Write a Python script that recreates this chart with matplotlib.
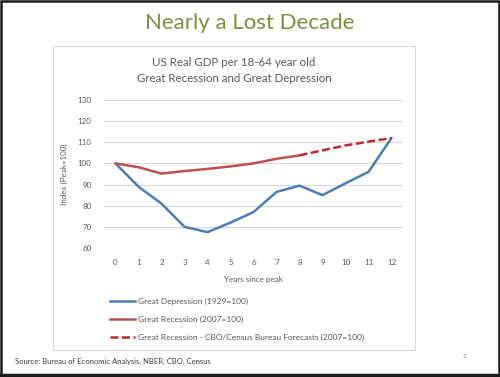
import matplotlib
matplotlib.use("Agg")
import matplotlib.pyplot as plt
from matplotlib.patches import Rectangle
from matplotlib.lines import Line2D

plt.rcParams['font.family'] = ['Lato', 'DejaVu Sans']

years = list(range(13))
great_depression = [100, 89, 81, 70, 67.5, 72, 77, 86.5, 89.5, 85, 90.6, 96, 112]
recession_years = list(range(9))
great_recession = [100, 98.2, 95.2, 96.4, 97.4, 98.6, 100, 102.2, 103.8]
forecast_years = [8, 9, 10, 11, 12]
forecast = [103.8, 106.2, 108.5, 110.3, 112]
yticks = [60, 70, 80, 90, 100, 110, 120, 130]

labels = ["Great Depression (1929=100)",
          "Great Recession (2007=100)",
          "Great Recession - CBO/Census Bureau Forecasts (2007=100)"]

W, H = 500, 377
fig = plt.figure(figsize=(5.0, 3.77), dpi=100)

def fx(px):
    return px / W

def fy(py):
    return 1 - py / H

# outer frame
fig.patches.append(Rectangle((0.002, 0.004), 0.996, 0.994, transform=fig.transFigure,
                             fill=False, edgecolor='#1a1a1a', linewidth=1.8))
fig.lines.append(Line2D([0, 1], [fy(375), fy(375)], transform=fig.transFigure,
                        color='#1a1a1a', linewidth=2.5))
# chart box
fig.patches.append(Rectangle((fx(53), fy(350)), fx(415) - fx(53), fy(46) - fy(350),
                             transform=fig.transFigure, fill=False,
                             edgecolor='#d9d9d9', linewidth=0.8))

fig.text(0.5, fy(23), "Nearly a Lost Decade", ha='center', va='center',
         fontsize=16, color='#77933C')
fig.text(fx(234), fy(62), "US Real GDP per 18-64 year old", ha='center', va='center',
         fontsize=8.3, color='#595959')
fig.text(fx(234), fy(79), "Great Recession and Great Depression", ha='center', va='center',
         fontsize=8.3, color='#595959')

ax = fig.add_axes([fx(104), fy(248), fx(403) - fx(104), fy(100) - fy(248)])
blue = '#4A7EBB'
red = '#C0504D'
dred = '#C0272D'
dash = (0, (3.2, 1.4))
ax.plot(years, great_depression, color=blue, linewidth=1.8, solid_capstyle='round')
ax.plot(recession_years, great_recession, color=red, linewidth=1.8, solid_capstyle='round')
ax.plot(forecast_years, forecast, color=dred, linewidth=1.8, linestyle=dash)

ax.set_xlim(-0.5, 12.5)
ax.set_ylim(60, 130)
ax.set_yticks(yticks)
ax.set_xticks(years)
ax.grid(axis='y', color='#d9d9d9', linewidth=0.8)
ax.set_axisbelow(True)
for s in ax.spines.values():
    s.set_visible(False)
ax.tick_params(length=0, labelsize=5.8, labelcolor='#595959')
ax.tick_params(axis='y', pad=9)
ax.tick_params(axis='x', pad=8)
ax.set_xlabel("Years since peak", fontsize=5.8, color='#595959', labelpad=7)
ax.set_ylabel("Index (Peak=100)", fontsize=5.8, color='#595959', labelpad=7)

handles = [Line2D([], [], color=blue, linewidth=1.8),
           Line2D([], [], color=red, linewidth=1.8),
           Line2D([], [], color=dred, linewidth=1.8, linestyle=dash)]
leg = fig.legend(handles, labels, loc='upper left',
                 bbox_to_anchor=(fx(110), fy(298)), frameon=False, fontsize=6,
                 handlelength=3.0, labelspacing=1.3, handletextpad=0.35,
                 borderaxespad=0, borderpad=0)
for t in leg.get_texts():
    t.set_color('#595959')

fig.text(fx(15), fy(361), "Source: Bureau of Economic Analysis, NBER, CBO, Census",
         ha='left', va='center', fontsize=5.5, color='#404040')
fig.text(fx(465), fy(357), "2", ha='center', va='center', fontsize=4.5, color='#808080')

fig.savefig("out.png", dpi=100)
